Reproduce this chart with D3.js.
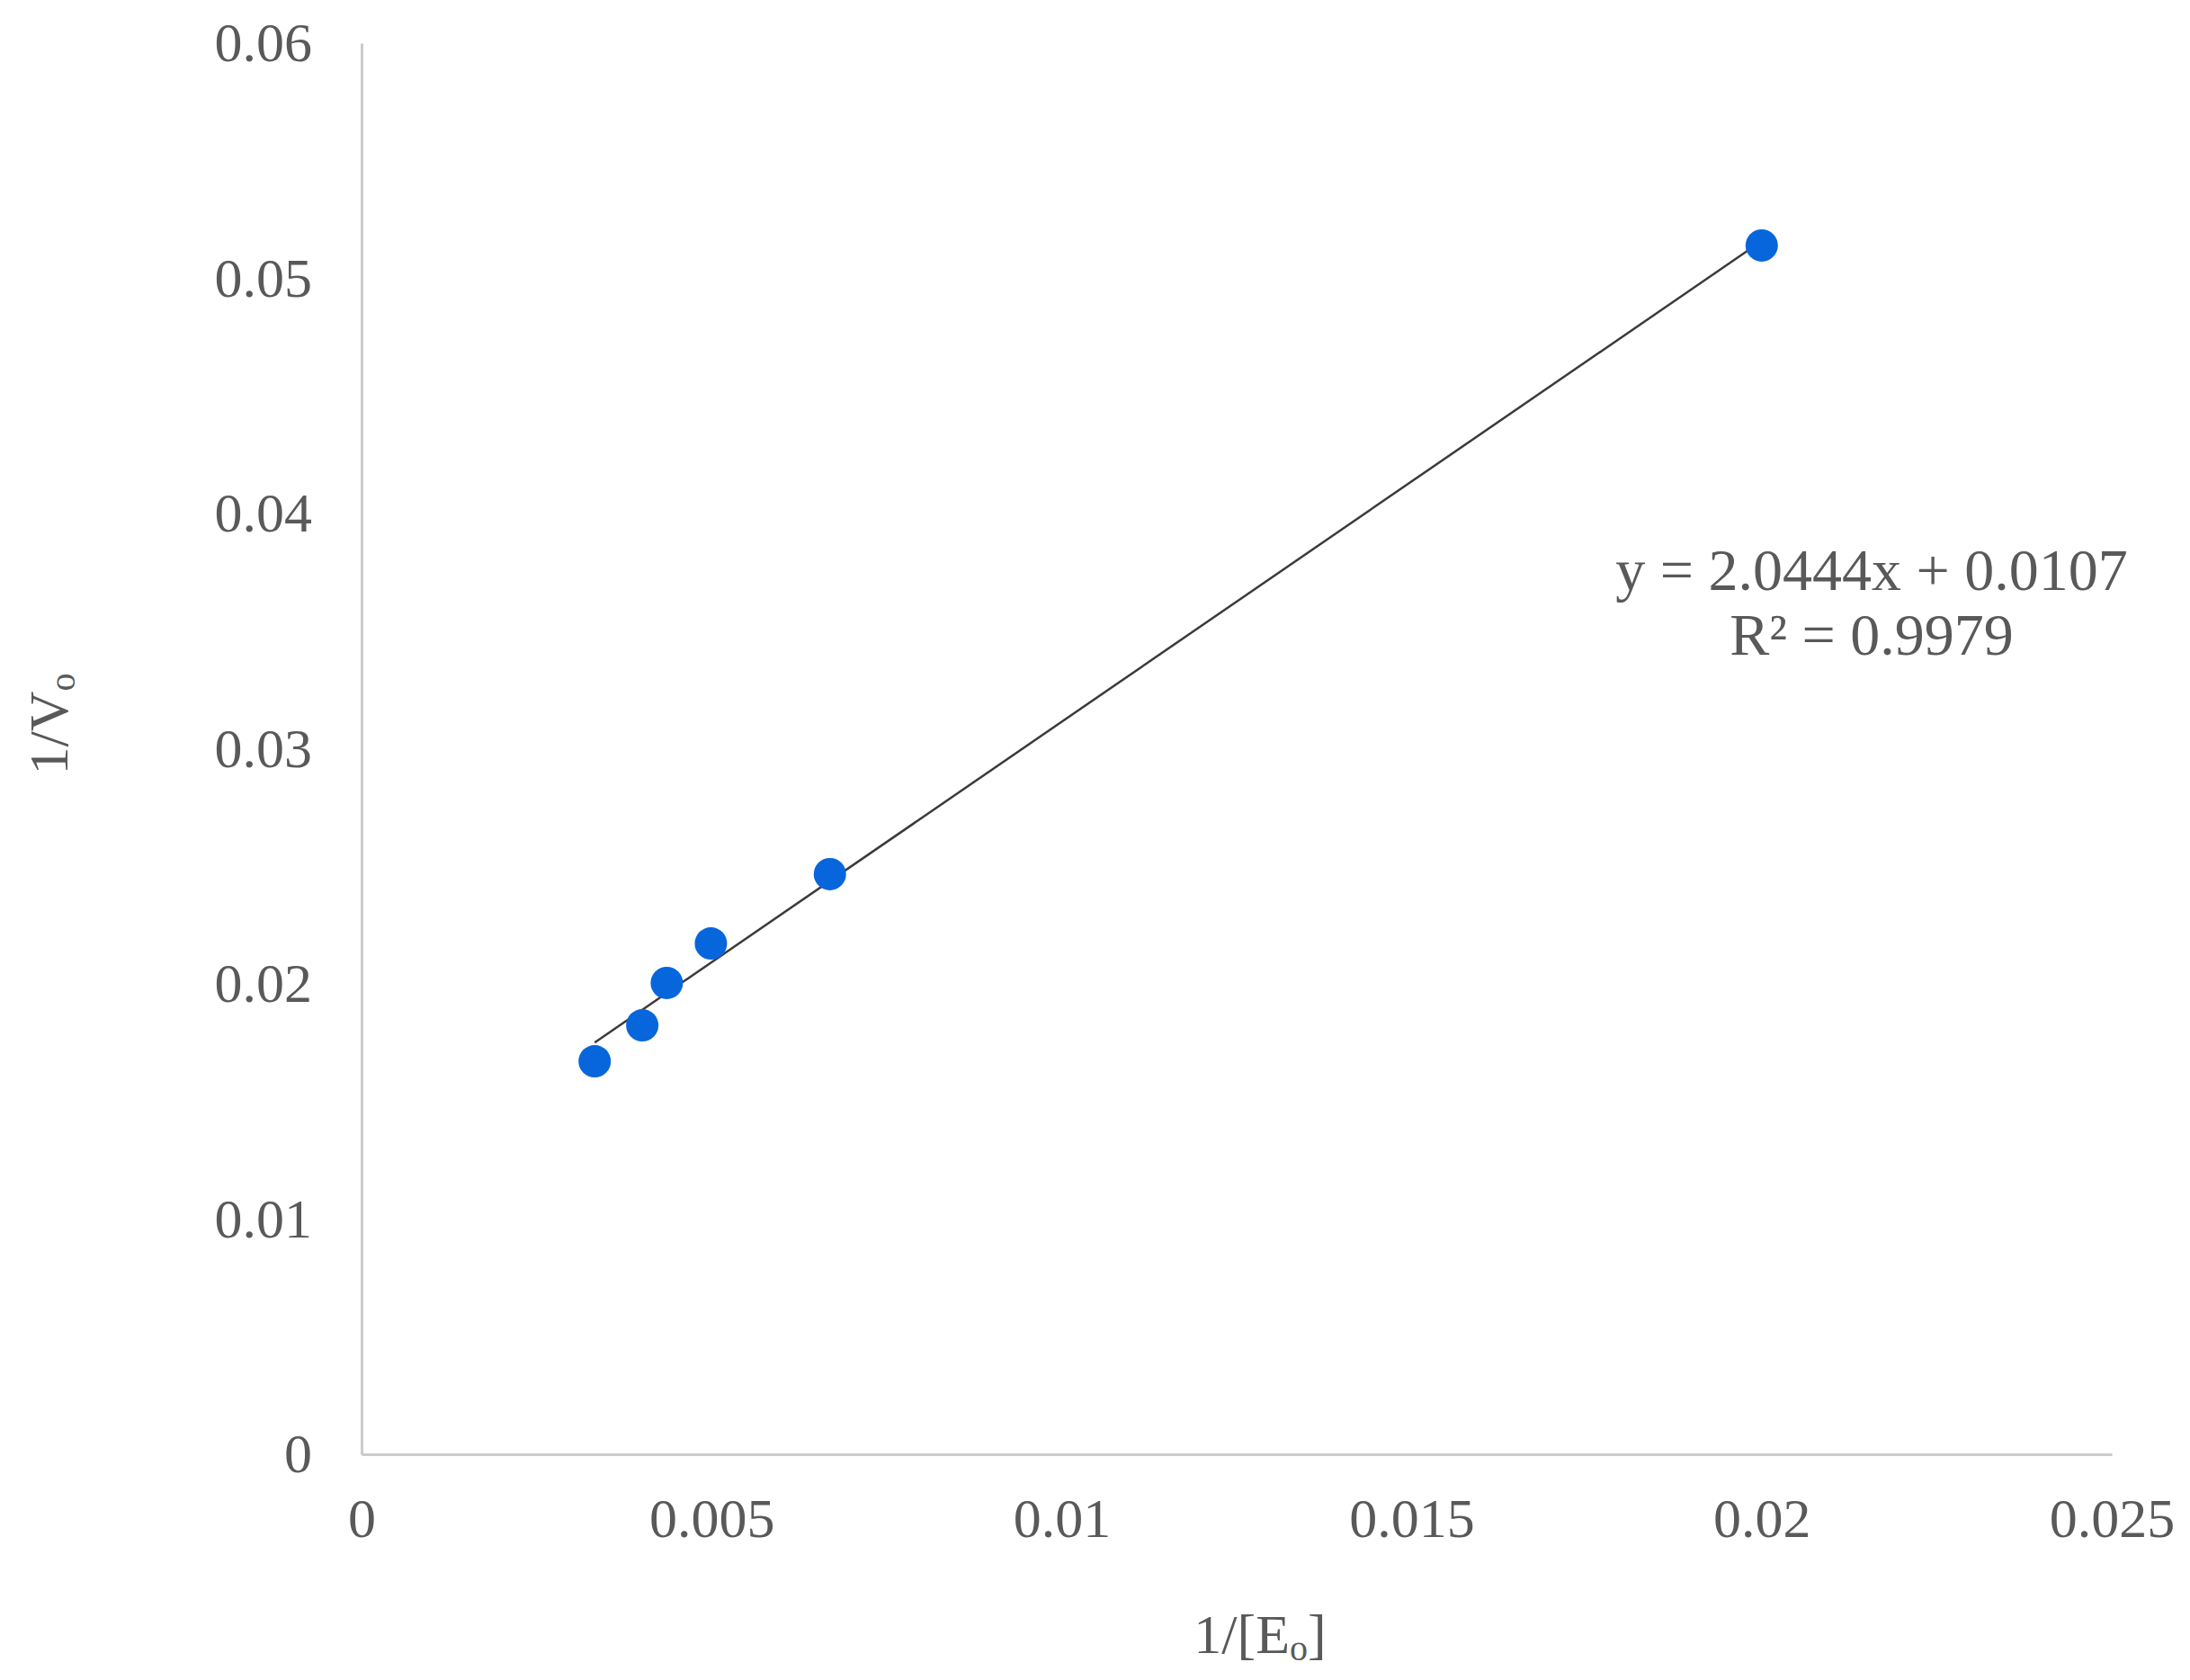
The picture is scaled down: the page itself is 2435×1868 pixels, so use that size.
<!DOCTYPE html>
<html>
<head>
<meta charset="utf-8">
<script src="https://cdn.jsdelivr.net/npm/d3@7"></script>
<style>
  body { margin: 0; background: #fff; }
  text { font-family: "Liberation Serif", "Times New Roman", serif; fill: #595959; }
</style>
</head>
<body>
<svg id="chart" width="2435" height="1868"></svg>
<script>
// data
const xVals = [0.00333, 0.00401, 0.00436, 0.00499, 0.00669, 0.0200];
const yVals = [0.01671, 0.01824, 0.02004, 0.02172, 0.02467, 0.05140];
const xTicks = [0, 0.005, 0.01, 0.015, 0.02, 0.025];
const yTicks = [0, 0.01, 0.02, 0.03, 0.04, 0.05, 0.06];
const slope = 2.0444, intercept = 0.0107;
const eqLines = ["y = 2.0444x + 0.0107", "R² = 0.9979"];

const svg = d3.select("svg#chart");
const plotL = 402, plotR = 2348, plotT = 48, plotB = 1617;

const x = d3.scaleLinear().domain([0, 0.025]).range([plotL, plotR]);
const y = d3.scaleLinear().domain([0, 0.06]).range([plotB, plotT]);

// axes: just the lines, no tick marks
const xAxis = svg.append("g")
    .attr("transform", "translate(0," + plotB + ")")
    .call(d3.axisBottom(x).tickValues(xTicks).tickSize(0).tickPadding(48)
      .tickFormat(d => d === 0 ? "0" : String(+d.toFixed(3))));
const yAxis = svg.append("g")
    .attr("transform", "translate(" + plotL + ",0)")
    .call(d3.axisLeft(y).tickValues(yTicks).tickSize(0).tickPadding(55)
      .tickFormat(d => d === 0 ? "0" : String(+d.toFixed(2))));

[xAxis, yAxis].forEach(g => {
  g.select(".domain").attr("stroke", "#cbcbcb").attr("stroke-width", 3);
  g.selectAll("text")
    .attr("font-family", "Liberation Serif, Times New Roman, serif")
    .attr("font-size", 62)
    .attr("fill", "#595959");
});

// trendline
const xr = d3.extent(xVals);
svg.append("line")
    .attr("x1", x(xr[0])).attr("y1", y(slope * xr[0] + intercept))
    .attr("x2", x(xr[1])).attr("y2", y(slope * xr[1] + intercept))
    .attr("stroke", "#3a3a3a")
    .attr("stroke-width", 2.5);

// points
svg.append("g").selectAll("circle")
    .data(xVals.map((d, i) => [d, yVals[i]]))
    .enter().append("circle")
      .attr("cx", d => x(d[0]))
      .attr("cy", d => y(d[1]))
      .attr("r", 18)
      .attr("fill", "#0866dc");

// trendline equation
svg.append("g").selectAll("text")
    .data(eqLines)
    .enter().append("text")
      .attr("x", 2081)
      .attr("y", (d, i) => 656 + i * 72)
      .attr("text-anchor", "middle")
      .attr("font-size", 66)
      .text(d => d);

// axis titles
const xt = svg.append("text")
    .attr("x", 1401).attr("y", 1838)
    .attr("text-anchor", "middle")
    .attr("font-size", 62);
xt.append("tspan").text("1/[E");
xt.append("tspan").attr("font-size", 40).attr("dy", 8).text("o");
xt.append("tspan").attr("dy", -8).text("]");

const yt = svg.append("text")
    .attr("transform", "translate(75,805) rotate(-90)")
    .attr("text-anchor", "middle")
    .attr("font-size", 62);
yt.append("tspan").text("1/V");
yt.append("tspan").attr("font-size", 40).attr("dy", 8).text("o");
</script>
</body>
</html>
